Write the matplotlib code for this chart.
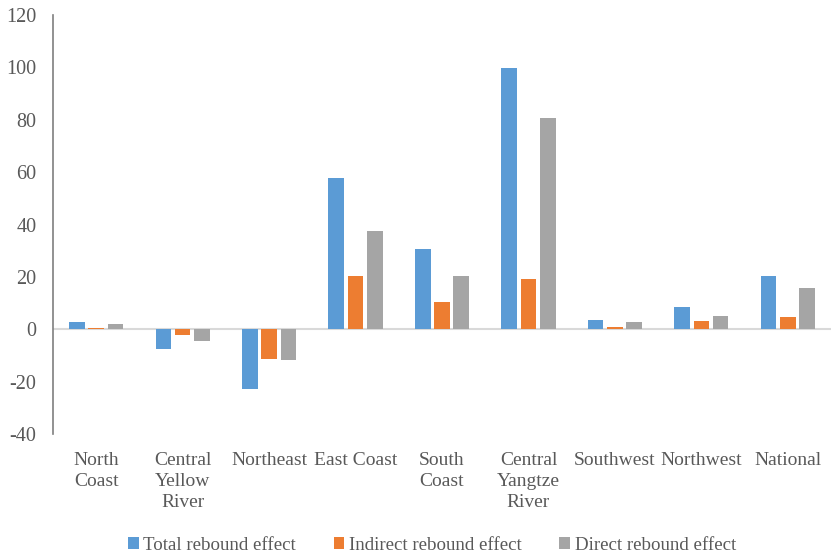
import matplotlib
matplotlib.use("Agg")
import matplotlib.pyplot as plt
import numpy as np

categories = ["North\nCoast", "Central\nYellow\nRiver", "Northeast", "East Coast",
              "South\nCoast", "Central\nYangtze\nRiver", "Southwest", "Northwest", "National"]
total = [2.8, -7.4, -22.9, 57.8, 30.8, 99.6, 3.6, 8.4, 20.5]
indirect = [0.6, -2.3, -11.2, 20.3, 10.4, 19.0, 1.0, 3.3, 4.8]
direct = [2.0, -4.6, -11.8, 37.7, 20.5, 80.7, 2.6, 5.1, 15.8]
series_names = ["Total rebound effect", "Indirect rebound effect", "Direct rebound effect"]
colors = ["#5B9BD5", "#ED7D31", "#A5A5A5"]
yticks = [-40, -20, 0, 20, 40, 60, 80, 100, 120]

plt.rcParams["font.family"] = ["Liberation Serif", "DejaVu Serif"]
text_color = "#595959"

W, H = 831, 555
fig = plt.figure(figsize=(W / 100, H / 100), dpi=100)
ax = fig.add_axes([53 / W, 1 - 434 / H, (831 - 53) / W, (434 - 15) / H])

x = np.arange(len(categories))
bw = 0.18
step = 0.223
for i, (vals, name, c) in enumerate(zip([total, indirect, direct], series_names, colors)):
    ax.bar(x + (i - 1) * step, vals, width=bw, color=c, label=name, zorder=3)

ax.axhline(0, color="#D9D9D9", lw=1.5, zorder=2)
ax.set_xlim(-0.5, len(categories) - 0.5)
ax.set_ylim(-40, 120)
ax.set_yticks(yticks)
ax.set_yticklabels([str(t) for t in yticks], fontsize=14.5, color=text_color)
ax.set_xticks(x)
ax.set_xticklabels(categories, fontsize=14, color=text_color, linespacing=1.3)
ax.tick_params(axis="x", length=0, pad=13)
ax.tick_params(axis="y", length=0, pad=12)
for s in ["top", "right", "bottom"]:
    ax.spines[s].set_visible(False)
ax.spines["left"].set_color("#7F7F7F")
ax.spines["left"].set_linewidth(1.2)

leg = fig.legend(loc="center", bbox_to_anchor=(432 / W, 1 - 545 / H), ncol=3,
                 frameon=False, fontsize=13.6, handlelength=0.55, handleheight=0.55,
                 handletextpad=0.25, columnspacing=2.0)
for t in leg.get_texts():
    t.set_color(text_color)

fig.savefig("out.png", dpi=100)
